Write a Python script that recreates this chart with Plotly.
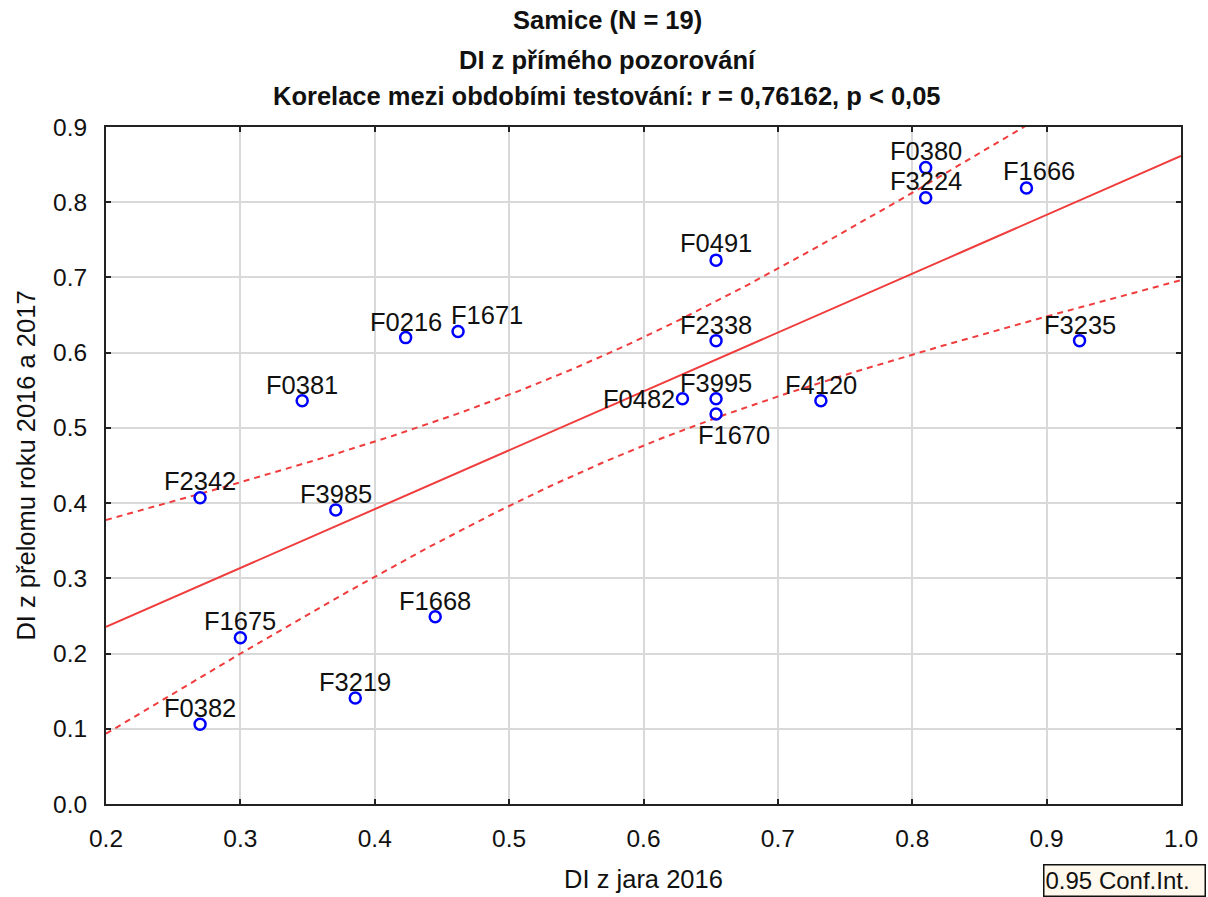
import numpy as np
import plotly.graph_objects as go

# ---- data ----
labels = ["F0380", "F3224", "F1666", "F0491", "F0216", "F1671", "F2338", "F3235",
          "F0381", "F0482", "F3995", "F1670", "F4120", "F2342", "F3985", "F1668",
          "F1675", "F3219", "F0382"]
x_jaro = [0.810, 0.810, 0.885, 0.654, 0.423, 0.462, 0.654, 0.9245,
          0.346, 0.629, 0.654, 0.654, 0.732, 0.270, 0.371, 0.445,
          0.300, 0.3855, 0.270]
y_prelom = [0.846, 0.806, 0.819, 0.723, 0.620, 0.628, 0.616, 0.616,
            0.536, 0.5386, 0.5386, 0.5186, 0.536, 0.407, 0.391, 0.249,
            0.221, 0.141, 0.106]
x_ticks = [0.2, 0.3, 0.4, 0.5, 0.6, 0.7, 0.8, 0.9, 1.0]
y_ticks = [0.0, 0.1, 0.2, 0.3, 0.4, 0.5, 0.6, 0.7, 0.8, 0.9]
T_975_DF17 = 2.1098  # Student t quantile, 95 % two-sided, df = n-2 = 17

# label offsets in pixels (style only)
lab_dx = [0, 0, 13, 0, 0, 29, 0, 0, 0, -43, 0, 18, 0, 0, 0, 0, 0, 0, 0]
lab_dy = [17, 17, 17, 17, 16, 17, 16, 16, 16, 0, 16, -21, 16, 17, 16, 16, 17, 16, 16]

# ---- regression + confidence band ----
xa = np.array(x_jaro)
ya = np.array(y_prelom)
n = len(xa)
slope, intercept = np.polyfit(xa, ya, 1)
resid = ya - (intercept + slope * xa)
s = np.sqrt(np.sum(resid ** 2) / (n - 2))
sxx = np.sum((xa - xa.mean()) ** 2)
xs = np.linspace(x_ticks[0], x_ticks[-1], 200)
yfit = intercept + slope * xs
half = T_975_DF17 * s * np.sqrt(1.0 / n + (xs - xa.mean()) ** 2 / sxx)

RED = "#f03c3c"
fig = go.Figure()
fig.add_trace(go.Scatter(x=xs, y=yfit + half, mode="lines",
                         line=dict(color=RED, width=2, dash="6px,5px"), hoverinfo="skip"))
fig.add_trace(go.Scatter(x=xs, y=yfit - half, mode="lines",
                         line=dict(color=RED, width=2, dash="6px,5px"), hoverinfo="skip"))
fig.add_trace(go.Scatter(x=xs, y=yfit, mode="lines",
                         line=dict(color=RED, width=2), hoverinfo="skip"))
fig.add_trace(go.Scatter(x=x_jaro, y=y_prelom, mode="markers", text=labels,
                         marker=dict(symbol="circle-open", size=11, color="#0000ff",
                                     line=dict(width=2.5, color="#0000ff"))))

FONT = "Liberation Sans, Arial, sans-serif"
for lab, xv, yv, dx, dy in zip(labels, x_jaro, y_prelom, lab_dx, lab_dy):
    fig.add_annotation(x=xv, y=yv, text=lab, showarrow=False, xshift=dx, yshift=dy,
                       xanchor="center", yanchor="middle",
                       font=dict(family=FONT, size=25.5, color="#111111"))

# titles (three lines)
L, R, T, B = 105.5, 26.5, 127, 93
W, H = 1208, 897
pw, ph = W - L - R, H - T - B
title_lines = ["<b>Samice (N = 19)</b>", "<b>DI z přímého pozorování</b>",
               "<b>Korelace mezi obdobími testování: r = 0,76162, p < 0,05</b>"]
title_y_px = [20, 60, 96]
for txt, py in zip(title_lines, title_y_px):
    fig.add_annotation(xref="paper", yref="paper", x=(607 - L) / pw, y=(H - B - py) / ph,
                       text=txt, showarrow=False, xanchor="center", yanchor="middle",
                       font=dict(family=FONT, size=25.5, color="#111111"))

# legend-like box
fig.add_annotation(xref="paper", yref="paper", x=(1043 - L) / pw, y=(H - B - 864) / ph,
                   text="0.95 Conf.Int.", showarrow=False, xanchor="left", yanchor="top",
                   align="left", width=158, height=28,
                   bgcolor="#fff8ec", bordercolor="#111111", borderwidth=1.5,
                   borderpad=1, font=dict(family=FONT, size=24, color="#111111"))

axis_common = dict(showgrid=True, gridcolor="#d9d9d9", gridwidth=2,
                   showline=True, linecolor="#222222", linewidth=2, mirror="ticks",
                   ticks="inside", ticklen=5, tickwidth=1.5, tickcolor="#222222",
                   zeroline=False, tickfont=dict(family=FONT, size=24.5, color="#111111"))

fig.update_layout(
    width=W, height=H,
    margin=dict(l=L, r=R, t=T, b=B, autoexpand=False),
    paper_bgcolor="white", plot_bgcolor="white",
    showlegend=False,
    xaxis=dict(range=[0.2, 1.0], tickvals=x_ticks, ticktext=[f"{v:.1f}" for v in x_ticks],
               ticklabelstandoff=12,
               title=dict(text="DI z jara 2016", standoff=19,
                          font=dict(family=FONT, size=25.5, color="#111111")),
               **axis_common),
    yaxis=dict(range=[0.0, 0.9], tickvals=y_ticks, ticktext=[f"{v:.1f}" for v in y_ticks],
               ticklabelstandoff=12,
               title=dict(text="DI z přelomu roku 2016 a 2017", standoff=10,
                          font=dict(family=FONT, size=25.5, color="#111111")),
               **axis_common),
)
fig.update_xaxes(automargin=False)
fig.update_yaxes(automargin=False)

fig.write_html("out.html")
